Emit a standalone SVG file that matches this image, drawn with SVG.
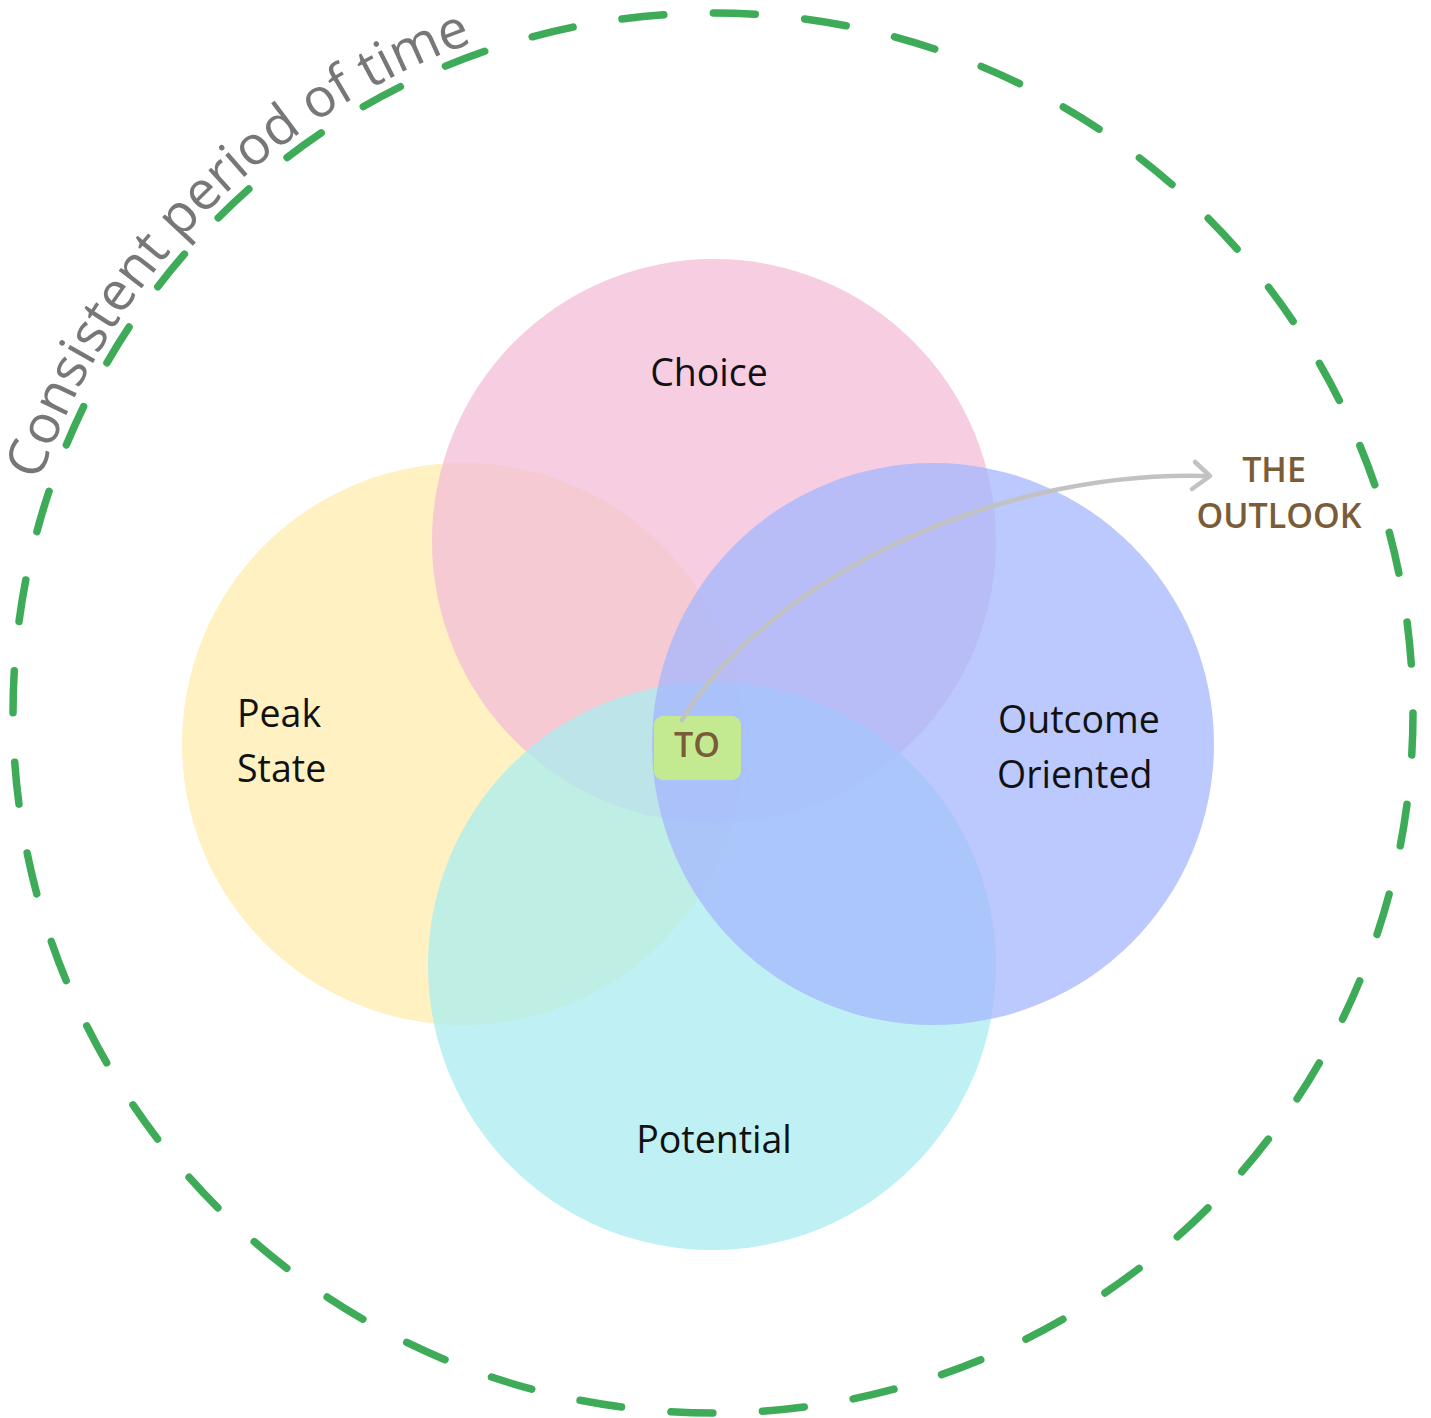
<svg xmlns="http://www.w3.org/2000/svg" width="1431" height="1418" viewBox="0 0 1431 1418">
  <style>
    .lbl { font-family: "Open Sans", "Liberation Sans", sans-serif; font-size: 37.5px; fill: #111111; }
    .brown { font-family: "Open Sans", "Liberation Sans", sans-serif; font-weight: 600; fill: #7a5c38; }
    .arc { font-family: "Open Sans", "Liberation Sans", sans-serif; font-weight: 400; font-size: 54px; fill: #777777; }
    .circ { opacity: 0.75; }
  </style>
  <defs>
    <path id="arcPath" d="M 39.8 481.2 A 712 712 0 0 1 775.1 3.7"/>
  </defs>
  <rect width="1431" height="1418" fill="#ffffff"/>

  <g id="time-boundary">
    <circle cx="713" cy="713" r="700" fill="none" stroke="#3dab57" stroke-width="7.5" stroke-linecap="round" stroke-dasharray="42 49.63"/>
    <text class="arc"><textPath href="#arcPath">Consistent period of time</textPath></text>
  </g>

  <g id="peak-state">
    <circle cx="463" cy="744" r="281" fill="#fff1c2"/>
  </g>
  <g id="choice">
    <circle class="circ" cx="714" cy="541" r="282" fill="#f3bcd7"/>
  </g>
  <g id="potential">
    <circle class="circ" cx="712" cy="966" r="284" fill="#aaecf0"/>
  </g>
  <g id="outcome-oriented">
    <circle class="circ" cx="933" cy="744" r="281" fill="#a4b7fe"/>
  </g>

  <g id="labels">
    <text class="lbl" x="709" y="386" text-anchor="middle">Choice</text>
    <text class="lbl" x="237" y="727">Peak</text>
    <text class="lbl" x="237" y="782">State</text>
    <text class="lbl" x="998" y="733">Outcome</text>
    <text class="lbl" x="997" y="788">Oriented</text>
    <text class="lbl" x="714" y="1153" text-anchor="middle">Potential</text>
  </g>

  <g id="to">
    <rect x="654" y="716" width="87" height="64" rx="9" fill="#c4ea91"/>
    <text class="brown" x="697" y="757" font-size="34" text-anchor="middle">TO</text>
  </g>

  <g id="the-outlook">
    <text class="brown" x="1274" y="482" font-size="34" text-anchor="middle">THE</text>
    <text class="brown" x="1279" y="528" font-size="34" text-anchor="middle">OUTLOOK</text>
  </g>

  <g id="connectors" fill="none" stroke="#c2c2c2" stroke-width="4.5" stroke-linecap="round" stroke-linejoin="round">
    <path d="M 682 720 C 760 590, 980 470, 1207 476"/>
    <path d="M 1195 462 L 1210 476 L 1192 489"/>
  </g>
</svg>
